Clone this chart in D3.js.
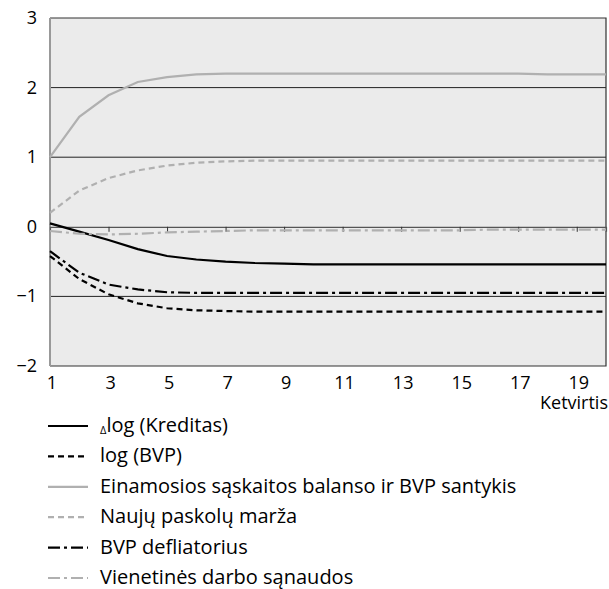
<!DOCTYPE html>
<html>
<head>
<meta charset="utf-8">
<style>
  body { margin: 0; background: #fff; }
  svg { font-family: "Open Sans", sans-serif; }
</style>
</head>
<body>
<svg width="609" height="589"></svg>
<script src="https://d3js.org/d3.v7.min.js"></script>
<script>
// Ketvirčiai (quarters)
const quarters = d3.range(1, 21);
const xTickLabels = [1, 3, 5, 7, 9, 11, 13, 15, 17, 19];
const yTickLabels = [-2, -1, 0, 1, 2, 3];

// series values
const kreditas = [0.05, -0.07, -0.19, -0.32, -0.42, -0.47, -0.5, -0.52, -0.53, -0.54, -0.54, -0.54, -0.54, -0.54, -0.54, -0.54, -0.54, -0.54, -0.54, -0.54];
const bvp = [-0.42, -0.75, -0.97, -1.1, -1.17, -1.2, -1.21, -1.22, -1.22, -1.22, -1.22, -1.22, -1.22, -1.22, -1.22, -1.22, -1.22, -1.22, -1.22, -1.22];
const einSaskaita = [1.0, 1.58, 1.89, 2.08, 2.15, 2.19, 2.2, 2.2, 2.2, 2.2, 2.2, 2.2, 2.2, 2.2, 2.2, 2.2, 2.2, 2.19, 2.19, 2.19];
const marza = [0.2, 0.52, 0.7, 0.81, 0.88, 0.92, 0.94, 0.95, 0.95, 0.95, 0.95, 0.95, 0.95, 0.95, 0.95, 0.95, 0.95, 0.95, 0.95, 0.95];
const defliatorius = [-0.35, -0.66, -0.83, -0.9, -0.94, -0.95, -0.95, -0.95, -0.95, -0.95, -0.95, -0.95, -0.95, -0.95, -0.95, -0.95, -0.95, -0.95, -0.95, -0.95];
const darboSanaudos = [-0.06, -0.1, -0.11, -0.1, -0.08, -0.07, -0.06, -0.05, -0.05, -0.05, -0.05, -0.05, -0.05, -0.05, -0.05, -0.04, -0.04, -0.04, -0.04, -0.04];

const series = [
  { name: "log (Kreditas)", delta: true, values: kreditas, color: "#000", dash: null },
  { name: "log (BVP)", values: bvp, color: "#000", dash: "6,4" },
  { name: "Einamosios sąskaitos balanso ir BVP santykis", values: einSaskaita, color: "#b0b0b0", dash: null },
  { name: "Naujų paskolų marža", values: marza, color: "#b0b0b0", dash: "6,4" },
  { name: "BVP defliatorius", values: defliatorius, color: "#000", dash: "12,4,3,4" },
  { name: "Vienetinės darbo sąnaudos", values: darboSanaudos, color: "#b0b0b0", dash: "12,4,3,4" }
];

const svg = d3.select("svg");
const plotL = 50, plotR = 606, plotT = 18, plotB = 366;

const x = d3.scaleLinear().domain([1, 20]).range([plotL, plotR]);
const y = d3.scaleLinear().domain([-2, 3]).range([plotB, plotT]);

// fonas
svg.append("rect")
  .attr("x", plotL).attr("y", plotT)
  .attr("width", plotR - plotL).attr("height", plotB - plotT)
  .attr("fill", "#ebebeb");

// tinklelis
svg.selectAll(".grid")
  .data(yTickLabels.filter(d => d !== 0 && d !== -2 && d !== 3))
  .enter().append("line")
  .attr("x1", plotL).attr("x2", plotR)
  .attr("y1", d => y(d)).attr("y2", d => y(d))
  .attr("stroke", "#222").attr("stroke-width", 1);

// rėmelis
svg.append("path")
  .attr("d", `M${plotL},${plotT}H${plotR}V${plotB}H${plotL}`)
  .attr("fill", "none").attr("stroke", "#333").attr("stroke-width", 1.2);
svg.append("line")
  .attr("x1", plotL).attr("x2", plotL).attr("y1", plotT).attr("y2", plotB)
  .attr("stroke", "#999").attr("stroke-width", 2);

// x ašis ties nuliu
const xAxis = svg.append("g")
  .attr("transform", `translate(0,${y(0)})`)
  .call(d3.axisBottom(x).tickValues(xTickLabels.slice(1)).tickSize(5).tickFormat(""));
xAxis.select(".domain").attr("stroke", "#555").attr("stroke-width", 1.2);
xAxis.selectAll(".tick line").attr("stroke", "#333");

// x žymės apačioje
svg.selectAll(".xlab")
  .data(xTickLabels)
  .enter().append("text")
  .attr("x", d => x(d) + 2)
  .attr("y", 389)
  .attr("text-anchor", "middle")
  .attr("font-size", 18)
  .text(d => d);

svg.append("text")
  .attr("x", 608).attr("y", 409)
  .attr("text-anchor", "end")
  .attr("font-size", 18)
  .text("Ketvirtis");

// y žymės
svg.selectAll(".ylab")
  .data(yTickLabels)
  .enter().append("text")
  .attr("x", 37)
  .attr("y", d => y(d) + 6)
  .attr("text-anchor", "end")
  .attr("font-size", 18)
  .text(d => d < 0 ? "\u2212" + Math.abs(d) : d);

// linijos
const line = d3.line()
  .x((d, i) => x(quarters[i]))
  .y(d => y(d));

svg.selectAll(".series")
  .data(series)
  .enter().append("path")
  .attr("d", d => line(d.values))
  .attr("fill", "none")
  .attr("stroke", d => d.color)
  .attr("stroke-width", 2.2)
  .attr("stroke-dasharray", d => d.dash);

// legenda
const legend = svg.selectAll(".legend")
  .data(series)
  .enter().append("g")
  .attr("transform", (d, i) => `translate(0,${426 + i * 30.4})`);

legend.append("line")
  .attr("x1", 48).attr("x2", 88)
  .attr("stroke", d => d.color)
  .attr("stroke-width", 2.2)
  .attr("stroke-dasharray", d => d.dash);

const lt = legend.append("text")
  .attr("x", 100)
  .attr("y", 6)
  .attr("font-size", 20);
lt.filter(d => d.delta).append("tspan")
  .attr("font-size", 11)
  .attr("dy", 2)
  .text("\u0394");
lt.append("tspan")
  .attr("dy", d => d.delta ? -2 : 0)
  .text(d => d.name);
</script>
</body>
</html>
